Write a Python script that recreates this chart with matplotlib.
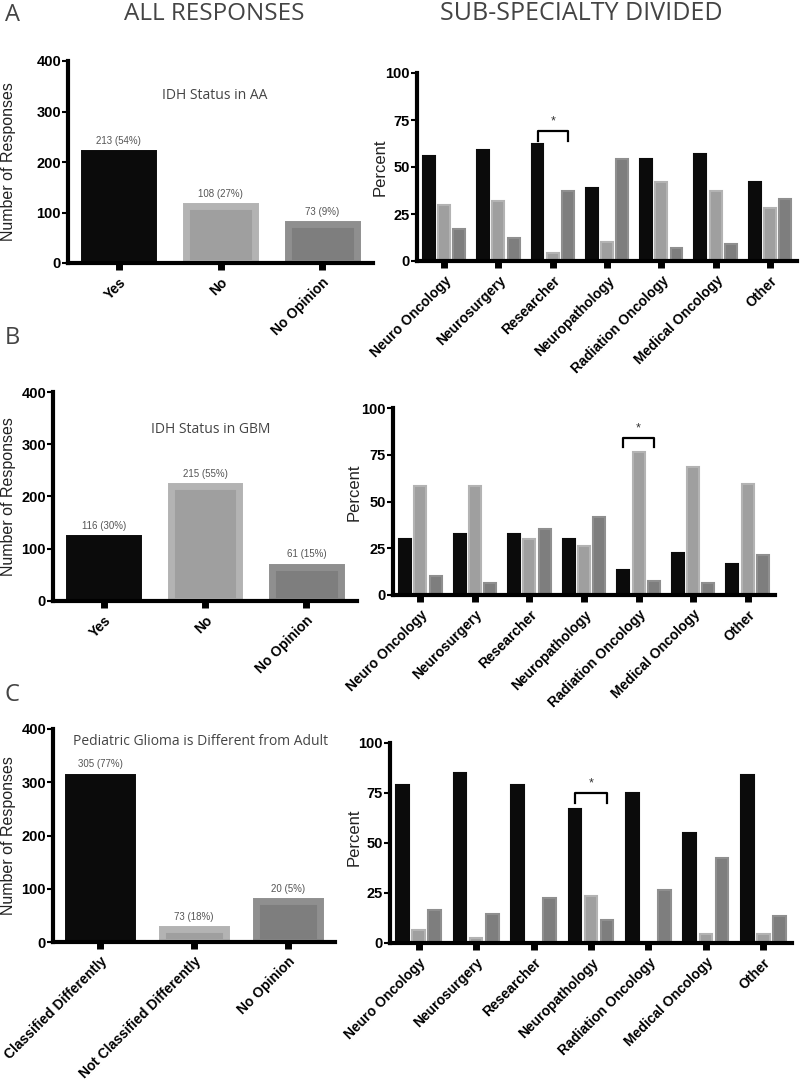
import matplotlib
matplotlib.use("Agg")
import matplotlib.pyplot as plt
import numpy as np

# left column: overall responses
answers_ab = ["Yes", "No", "No Opinion"]
answers_c = ["Classified Differently", "Not Classified Differently", "No Opinion"]

counts_a = [217, 112, 77]
counts_b = [120, 220, 66]
counts_c = [310, 24, 77]

labels_a = ["213 (54%)", "108 (27%)", "73 (9%)"]
labels_b = ["116 (30%)", "215 (55%)", "61 (15%)"]
labels_c = ["305 (77%)", "73 (18%)", "20 (5%)"]

titles = ["IDH Status in AA", "IDH Status in GBM", "Pediatric Glioma is Different from Adult"]

# right column: percent by sub-specialty
specialties = ["Neuro Oncology", "Neurosurgery", "Researcher", "Neuropathology",
               "Radiation Oncology", "Medical Oncology", "Other"]

pct_a_first = [56, 59, 62, 39, 54, 57, 42]
pct_a_second = [30, 32, 4, 10, 42, 37, 28]
pct_a_third = [17, 12, 37, 54, 7, 9, 33]

pct_b_first = [30, 32.5, 32.5, 30, 13.5, 22.5, 16.5]
pct_b_second = [58.5, 58.5, 30, 26, 76.5, 68.5, 59.5]
pct_b_third = [10, 6.5, 35.5, 41.5, 7.5, 6.5, 21.5]

pct_c_first = [79, 85, 79, 67, 75, 55, 84]
pct_c_second = [6.5, 2.5, 0, 23.5, 0, 4.5, 4.5]
pct_c_third = [16.5, 14.5, 22.5, 11.5, 26.5, 42.5, 13.5]

# significance brackets: (category index, bracket top, leg bottom)
sig_a = (2, 69, 64)
sig_b = (4, 84, 79)
sig_c = (3, 75, 70)

fills = ["#0b0b0b", "#9f9f9f", "#7e7e7e"]
edges = ["#0b0b0b", "#b3b3b3", "#8f8f8f"]
TXT = "#444444"
BOLD = dict(family="Liberation Sans", weight="bold")

W, H = 800, 1081
fig = plt.figure(figsize=(W / 100, H / 100), dpi=100)


def box(x0, x1, top, bot):
    return [x0 / W, (H - bot) / H, (x1 - x0) / W, (bot - top) / H]


def style(ax, ymax, step, fs=10.5):
    for s in ["top", "right"]:
        ax.spines[s].set_visible(False)
    for s in ["left", "bottom"]:
        ax.spines[s].set_linewidth(3)
    ax.set_ylim(0, ymax)
    ax.set_yticks(np.arange(0, ymax + 1, step))
    ax.tick_params(axis="y", length=4, width=1.5, pad=1, labelsize=fs)
    ax.tick_params(axis="x", length=5, width=5, pad=4, labelsize=10)
    for t in ax.get_yticklabels() + ax.get_xticklabels():
        t.set_fontfamily("Liberation Sans")
        t.set_fontweight("bold")


def left_panel(rect, cats, counts, labels, title, title_xy, title_ha, ylab_x):
    ax = fig.add_axes(rect)
    x = np.arange(len(cats))
    ax.bar(x, counts, width=0.68, color=fills, edgecolor=edges, linewidth=5, zorder=2)
    for xi, c, lab in zip(x, counts, labels):
        ax.text(xi, c + 14, lab, ha="center", va="bottom", fontsize=7,
                family="Liberation Sans", color="#555555")
    ax.set_xlim(-0.5, len(cats) - 0.5)
    style(ax, 400, 100)
    ax.set_xticks(x)
    ax.set_xticklabels(cats, rotation=45, ha="right", va="top", rotation_mode="anchor", **BOLD)
    ax.set_ylabel("Number of Responses", fontsize=11.5, family="Liberation Sans", color="#222222")
    ax.yaxis.set_label_coords(ylab_x, 0.5)
    ax.text(title_xy[0], title_xy[1], title, transform=ax.transAxes, ha=title_ha, va="center",
            fontsize=10, family="Open Sans", color=TXT)
    return ax


def right_panel(rect, first, second, third, sig, ylab_x, ylab_y):
    ax = fig.add_axes(rect)
    x = np.arange(len(specialties))
    off = 0.28
    for k, vals in enumerate([first, second, third]):
        ax.bar(x + (k - 1) * off, vals, width=0.22, color=fills[k], edgecolor=edges[k],
               linewidth=1.5, zorder=2)
    ax.set_xlim(-0.5, len(specialties) - 0.5)
    style(ax, 100, 25)
    ax.set_xticks(x)
    ax.set_xticklabels(specialties, rotation=45, ha="right", va="top", rotation_mode="anchor", **BOLD)
    ax.set_ylabel("Percent", fontsize=12, family="Liberation Sans", color="#222222")
    ax.yaxis.set_label_coords(ylab_x, ylab_y)
    i, top, bot = sig
    ax.plot([i - off, i - off, i + off, i + off], [bot, top, top, bot], color="black", lw=1.6,
            clip_on=False, zorder=3)
    ax.text(i, top + 2, "*", ha="center", va="bottom", fontsize=9, family="Liberation Sans",
            color="#333333")
    return ax


left_panel(box(68, 373, 61, 263), answers_ab, counts_a, labels_a, titles[0],
           (0.48, 0.83), "center", -0.170)
right_panel(box(417, 797, 73, 261), pct_a_first, pct_a_second, pct_a_third, sig_a, -0.076, 0.5)

left_panel(box(53, 357, 392, 601), answers_ab, counts_b, labels_b, titles[1],
           (0.52, 0.82), "center", -0.122)
right_panel(box(393, 775, 408, 595), pct_b_first, pct_b_second, pct_b_third, sig_b, -0.081, 0.55)

left_panel(box(53, 335, 729, 942), answers_c, counts_c, labels_c, titles[2],
           (0.07, 0.94), "left", -0.131)
right_panel(box(390, 792, 743, 943), pct_c_first, pct_c_second, pct_c_third, sig_c, -0.07, 0.53)

# column headers and panel letters
fig.text(214 / W, 1 - 14 / H, "ALL RESPONSES", ha="center", va="center", fontsize=17.5,
         family="Open Sans", color=TXT)
fig.text(581 / W, 1 - 14 / H, "SUB-SPECIALTY DIVIDED", ha="center", va="center", fontsize=18,
         family="Open Sans", color=TXT)
for letter, y in [("A", 15), ("B", 338), ("C", 695)]:
    fig.text(5 / W, 1 - y / H, letter, ha="left", va="center", fontsize=17,
             family="Open Sans", color=TXT)

fig.savefig("out.png", dpi=100)
